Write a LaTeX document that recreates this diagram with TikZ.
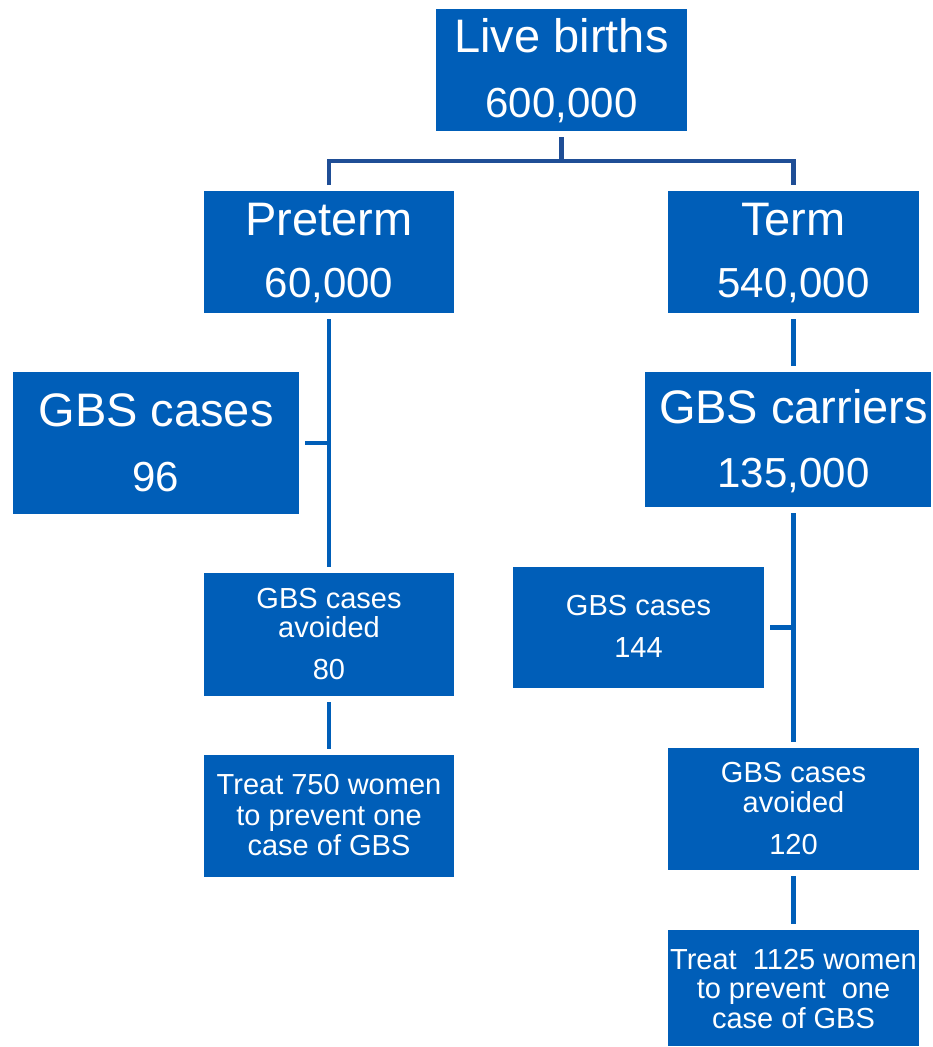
\documentclass[tikz,border=0pt]{standalone}
\usepackage{fontspec}
\setmainfont{Liberation Sans}
\usetikzlibrary{calc}
\definecolor{nhsblue}{HTML}{005EB8}
\definecolor{linedark}{HTML}{1F4E96}
\tikzset{
 box/.style={fill=nhsblue, draw=none, inner sep=0pt, outer sep=0pt},
 txt/.style={text=white, anchor=base, inner sep=0pt, outer sep=0pt},
 titlefont/.style={font=\fontsize{47}{47}\selectfont},
 numfont/.style={font=\fontsize{42}{42}\selectfont},
 smallfont/.style={font=\fontsize{29}{29}\selectfont},
 conn/.style={draw=nhsblue, line width=4.5pt},
 elbow/.style={draw=linedark, line width=4.5pt, line join=miter},
}
\begin{document}
\begin{tikzpicture}[x=1pt,y=-1pt]
\useasboundingbox (0,0) rectangle (932,1047);
% boxes
\node[box, minimum width=251pt, minimum height=122pt] (lb) at (561.5,70) {};
\node[box, minimum width=250pt, minimum height=122pt] (pre) at (329,252) {};
\node[box, minimum width=251pt, minimum height=122pt] (term) at (793.5,252) {};
\node[box, minimum width=286pt, minimum height=142pt] (cas) at (156,443) {};
\node[box, minimum width=286pt, minimum height=135pt] (car) at (788,439.5) {};
\node[box, minimum width=250pt, minimum height=123pt] (lav) at (329,634.5) {};
\node[box, minimum width=251pt, minimum height=121pt] (c144) at (638.5,627.5) {};
\node[box, minimum width=250pt, minimum height=122pt] (ltr) at (329,816) {};
\node[box, minimum width=251pt, minimum height=122pt] (rav) at (793.5,809) {};
\node[box, minimum width=251pt, minimum height=116pt] (rtr) at (793.5,988) {};
% texts
\node[txt, titlefont] (t1) at (561.5,52) {Live births};
\node[txt, numfont] (t2) at (561.5,117) {600,000};
\node[txt, titlefont] (t3) at (329,235) {Preterm};
\node[txt, numfont] (t4) at (329,297) {60,000};
\node[txt, titlefont] (t5) at (793.5,235) {Term};
\node[txt, numfont] (t6) at (793.5,297) {540,000};
\node[txt, titlefont] (t7) at (156,426) {GBS cases};
\node[txt, numfont] (t8) at (156,491) {96};
\node[txt, titlefont] (t9) at (793.5,423) {GBS carriers};
\node[txt, numfont] (t10) at (793.5,487) {135,000};
\node[txt, smallfont] (t11) at (638.5,615) {GBS cases};
\node[txt, smallfont] (t12) at (638.5,657) {144};
\node[txt, smallfont] (t13) at (329,608) {GBS cases};
\node[txt, smallfont] (t14) at (329,637) {avoided};
\node[txt, smallfont] (t15) at (329,679) {80};
\node[txt, smallfont] (t16) at (329,794) {Treat 750 women};
\node[txt, smallfont] (t17) at (329,825) {to prevent one};
\node[txt, smallfont] (t18) at (329,855) {case of GBS};
\node[txt, smallfont] (t19) at (793.5,782) {GBS cases};
\node[txt, smallfont] (t20) at (793.5,812) {avoided};
\node[txt, smallfont] (t21) at (793.5,854) {120};
\node[txt, smallfont] (t22) at (793.5,969) {Treat\ \ 1125 women};
\node[txt, smallfont] (t23) at (793.5,998) {to prevent\ \ one};
\node[txt, smallfont] (t24) at (793.5,1028) {case of GBS};
% connectors
\coordinate (j) at (561.5,161);
\draw[elbow] ($(lb.south)+(0,6)$) -- (j);
\draw[elbow] ($(pre.north)+(0,-6)$) |- (j) -| ($(term.north)+(0,-6)$);
\draw[conn] ($(pre.south)+(0,6)$) -- ($(lav.north)+(0,-6)$);
\draw[conn] ($(cas.east)+(6,0)$) -- (cas.east -| pre.south);
\draw[conn] ($(lav.south)+(0,6)$) -- ($(ltr.north)+(0,-6)$);
\draw[conn] ($(term.south)+(0,6)$) -- ($(term.south |- car.north)+(0,-6)$);
\draw[conn] ($(rav.north |- car.south)+(0,6)$) -- ($(rav.north)+(0,-6)$);
\draw[conn] ($(c144.east)+(6,0)$) -- (c144.east -| rav.north);
\draw[conn] ($(rav.south)+(0,6)$) -- ($(rtr.north)+(0,-6)$);
\end{tikzpicture}
\end{document}
